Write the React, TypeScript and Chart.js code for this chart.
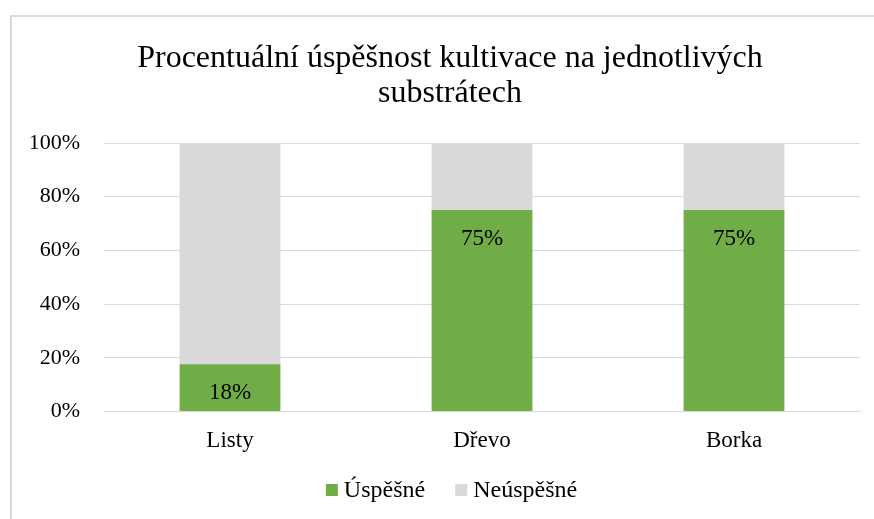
import React, { useEffect, useRef } from "react";
import { Chart, registerables } from "chart.js";

Chart.register(...registerables);

const categories = ["Listy", "Dřevo", "Borka"];
const successValues = [17.6, 75, 75];
const failValues = [82.4, 25, 25];
const seriesNames = ["Úspěšné", "Neúspěšné"];
const titleLines = ["Procentuální úspěšnost kultivace na jednotlivých", "substrátech"];

const FONT = "'Liberation Serif', 'Times New Roman', serif";

const framePlugin = {
  id: "frame",
  beforeDraw(chart: any) {
    const ctx = chart.ctx;
    ctx.save();
    ctx.strokeStyle = "#D9D9D9";
    ctx.lineWidth = 2;
    ctx.beginPath();
    ctx.moveTo(11, 519);
    ctx.lineTo(11, 16);
    ctx.lineTo(874, 16);
    ctx.stroke();
    ctx.restore();
  },
};

const titlePlugin = {
  id: "customTitle",
  afterDraw(chart: any) {
    const ctx = chart.ctx;
    ctx.save();
    ctx.fillStyle = "#000";
    ctx.font = `32px ${FONT}`;
    ctx.textAlign = "center";
    ctx.textBaseline = "alphabetic";
    titleLines.forEach((line, i) => {
      ctx.fillText(line, 450, 67 + i * 35);
    });
    ctx.restore();
  },
};

const labelPlugin = {
  id: "barLabels",
  afterDatasetsDraw(chart: any) {
    const ctx = chart.ctx;
    const meta = chart.getDatasetMeta(0);
    ctx.save();
    ctx.fillStyle = "#000";
    ctx.font = `23px ${FONT}`;
    ctx.textAlign = "center";
    ctx.textBaseline = "middle";
    meta.data.forEach((bar: any, i: number) => {
      const v = successValues[i];
      ctx.fillText(Math.round(v) + "%", bar.x, bar.y + 29);
    });
    ctx.restore();
  },
};

const legendPlugin = {
  id: "customLegend",
  afterDraw(chart: any) {
    const ctx = chart.ctx;
    const ds = chart.data.datasets;
    const box = 12;
    const gap = 6;
    const between = 30;
    ctx.save();
    ctx.font = `24px ${FONT}`;
    const widths = ds.map((d: any) => box + gap + ctx.measureText(d.label).width);
    const total = widths.reduce((a: number, b: number) => a + b, 0) + between * (ds.length - 1);
    let x = 451.5 - total / 2;
    const y = 490;
    ds.forEach((d: any, i: number) => {
      ctx.fillStyle = d.backgroundColor;
      ctx.fillRect(x, y - box / 2, box, box);
      ctx.fillStyle = "#000";
      ctx.textAlign = "left";
      ctx.textBaseline = "middle";
      ctx.fillText(d.label, x + box + gap, y + 1);
      x += widths[i] + between;
    });
    ctx.restore();
  },
};

export default function App() {
  const ref = useRef<HTMLCanvasElement>(null);
  useEffect(() => {
    if (!ref.current) return;
    const chart = new Chart(ref.current, {
      type: "bar",
      data: {
        labels: categories,
        datasets: [
          { label: seriesNames[0], data: successValues, backgroundColor: "#70AD47", barPercentage: 0.4, categoryPercentage: 1 },
          { label: seriesNames[1], data: failValues, backgroundColor: "#D9D9D9", barPercentage: 0.4, categoryPercentage: 1 },
        ],
      },
      options: {
        animation: false,
        responsive: false,
        layout: { padding: { left: 0, right: 14, top: 143, bottom: 56 } },
        plugins: {
          title: { display: false },
          legend: { display: false },
          tooltip: { enabled: false },
        },
        scales: {
          x: {
            stacked: true,
            grid: { display: false },
            border: { display: true, color: "#D9D9D9", width: 1 },
            ticks: { color: "#000", font: { family: FONT, size: 23 }, padding: 8 },
          },
          y: {
            stacked: true,
            min: 0,
            max: 100,
            afterFit(scale: any) {
              scale.width = 104;
            },
            grid: { color: "#D9D9D9", drawTicks: false },
            border: { display: false },
            ticks: {
              stepSize: 20,
              color: "#000",
              font: { family: FONT, size: 22 },
              padding: 24,
              callback: (v: any) => v + "%",
            },
          },
        },
      },
      plugins: [framePlugin, labelPlugin, titlePlugin, legendPlugin],
    });
    return () => chart.destroy();
  }, []);
  return (
    <div style={{ position: "fixed", left: 0, top: 0, width: 874, height: 519, background: "#fff" }}>
      <canvas ref={ref} width={874} height={519} style={{ display: "block" }} />
    </div>
  );
}
